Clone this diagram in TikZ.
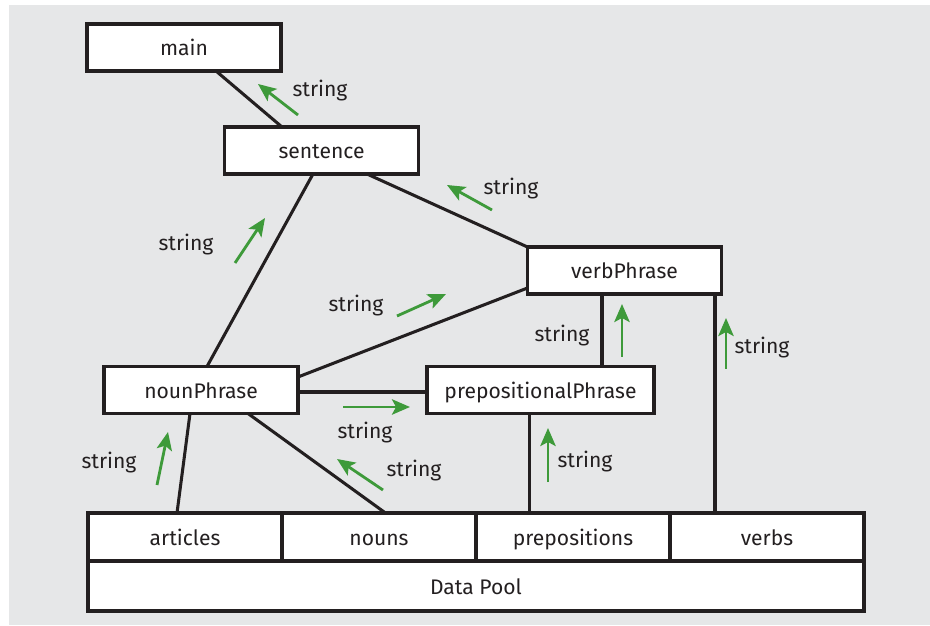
\documentclass[tikz,border=0pt]{standalone}
\usepackage{fontspec}
\setmainfont{Fira Sans}
\usetikzlibrary{arrows.meta,calc,positioning}
\definecolor{poolGray}{HTML}{E6E7E8}
\definecolor{flowGreen}{HTML}{3E9A3A}
\definecolor{inkBlack}{HTML}{231F20}

\begin{document}
\begin{tikzpicture}[
  >=Stealth,
  every node/.style={font=\fontsize{18}{21}\selectfont, text=inkBlack},
  module/.style={draw=inkBlack, fill=white, line width=2.6pt,
    minimum width=5.82cm, minimum height=1.41cm, inner sep=0pt, outer sep=0pt,
    text height=1.6em, text depth=0.2em},
  link/.style={draw=inkBlack, line width=2.6pt},
  flow/.style={flowGreen, line width=2.4pt,
    -{Stealth[length=5.4mm, width=4.6mm, inset=1.2mm]}},
  passed/.style={inner sep=0pt, text height=1.35em, text depth=0.2em}
]
  \useasboundingbox (0,0) rectangle (27.9,18.75);
  \fill[poolGray] (0.27,0) rectangle (27.9,18.6);

  % Call hierarchy
  \node[module] (main) at (5.52,17.325) {main};
  \node[module] (sentence) at (9.645,14.235) {sentence};
  \node[module] (verbPhrase) at (18.735,10.635) {verbPhrase};
  \node[module] (nounPhrase) at (6.03,7.05) {nounPhrase};
  \node[module, minimum width=6.81cm] (prepPhrase) at (16.215,7.05) {prepositionalPhrase};

  % Data pool along the bottom
  \node[module, minimum height=1.44cm] (articles) at (5.55,2.64) {articles};
  \node[module, minimum height=1.44cm, right=0pt of articles] (nouns) {nouns};
  \node[module, minimum height=1.44cm, right=0pt of nouns] (prepositions) {prepositions};
  \node[module, minimum height=1.44cm, right=0pt of prepositions] (verbs) {verbs};
  \node[module, minimum width=23.28cm, minimum height=1.5cm, anchor=north west]
    (dataPool) at (articles.south west) {Data Pool};

  % Links between modules
  \draw[link] ([xshift=0.96cm]main.south) -- ([xshift=-1.185cm]sentence.north);
  \draw[link] ([xshift=-0.255cm]sentence.south) -- ([xshift=0.18cm]nounPhrase.north);
  \draw[link] ([xshift=1.365cm]sentence.south) -- (verbPhrase.north west);
  \draw[link] ([yshift=0.39cm]nounPhrase.east) -- ([yshift=-0.525cm]verbPhrase.west);
  \draw[link] ([yshift=-0.06cm]nounPhrase.east) -- ([yshift=-0.06cm]prepPhrase.west);
  \draw[link] ([xshift=-0.675cm]verbPhrase.south)
    -- ([xshift=-0.675cm]verbPhrase.south |- prepPhrase.north);
  \draw[link] ([xshift=-0.33cm]nounPhrase.south) -- ([xshift=-0.24cm]articles.north);
  \draw[link] ([xshift=1.41cm]nounPhrase.south) -- ([xshift=0.195cm]nouns.north);
  \draw[link] ([xshift=-1.305cm]prepositions.north)
    -- ([xshift=-1.305cm]prepositions.north |- prepPhrase.south);
  \draw[link] ([xshift=-1.56cm]verbs.north)
    -- ([xshift=-1.56cm]verbs.north |- verbPhrase.south);

  % Returned strings
  \draw[flow] (8.94,15.30) -- (7.74,16.23);
  \node[passed] (s1) at (9.60,16.05) {string};
  \draw[flow] (14.76,12.45) -- (13.41,13.20);
  \node[passed] (s2) at (15.33,13.11) {string};
  \draw[flow] (7.05,10.86) -- (7.95,12.21);
  \node[passed] (s3) at (5.58,11.43) {string};
  \draw[flow] (11.91,9.27) -- (13.38,9.93);
  \node[passed] (s4) at (10.68,9.60) {string};
  \draw[flow] (18.66,8.04) -- (18.66,9.63);
  \node[passed] (s5) at (16.86,8.70) {string};
  \draw[flow] (21.78,7.68) -- (21.78,9.21);
  \node[passed] (s6) at (22.86,8.34) {string};
  \draw[flow] (10.29,6.54) -- (12.30,6.54);
  \node[passed] (s7) at (10.95,5.79) {string};
  \draw[flow] (16.44,4.29) -- (16.44,5.91);
  \node[passed] (s8) at (17.55,4.92) {string};
  \draw[flow] (11.49,4.05) -- (10.11,4.98);
  \node[passed] (s9) at (12.42,4.65) {string};
  \draw[flow] (4.71,4.20) -- (5.04,5.79);
  \node[passed] (s10) at (3.27,4.89) {string};
\end{tikzpicture}
\end{document}
